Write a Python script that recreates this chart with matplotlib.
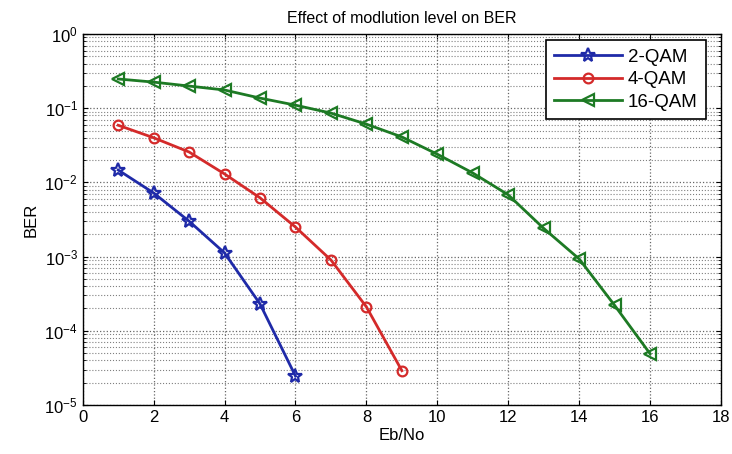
import matplotlib.pyplot as plt
from matplotlib.ticker import LogLocator, NullFormatter

plt.rcParams['font.family'] = ['Liberation Sans', 'DejaVu Sans']

# Eb/No values and BER for each modulation level
ebno_2qam = [1, 2, 3, 4, 5, 6]
ber_2qam = [0.0147, 0.0072, 0.0030, 0.00112, 2.3e-4, 2.45e-5]

ebno_4qam = [1, 2, 3, 4, 5, 6, 7, 8, 9]
ber_4qam = [0.059, 0.040, 0.0257, 0.0130, 0.0062, 0.0025, 9.0e-4, 2.1e-4, 2.9e-5]

ebno_16qam = list(range(1, 17))
ber_16qam = [0.248, 0.225, 0.199, 0.176, 0.137, 0.110, 0.086, 0.061,
             0.041, 0.024, 0.0134, 0.0068, 0.0024, 9.3e-4, 2.2e-4, 4.9e-5]

labels = ['2-QAM', '4-QAM', '16-QAM']

fig = plt.figure(figsize=(7.32, 4.54), dpi=100)
ax = fig.add_axes([0.113, 0.108, 0.872, 0.817])

ax.semilogy(ebno_2qam, ber_2qam, color='#1f2aa8', lw=2, marker='*', ms=10,
            mfc='none', mew=1.6, label=labels[0])
ax.semilogy(ebno_4qam, ber_4qam, color='#d42a2a', lw=2, marker='o', ms=7,
            mfc='none', mew=1.6, label=labels[1])
ax.semilogy(ebno_16qam, ber_16qam, color='#1d7a24', lw=2, marker='<', ms=8,
            mfc='none', mew=1.6, label=labels[2])

ax.set_xlim(0, 18)
ax.set_ylim(1e-5, 1)
ax.set_xticks(range(0, 19, 2))
ax.yaxis.set_minor_locator(LogLocator(base=10, subs=range(2, 10), numticks=20))
ax.yaxis.set_minor_formatter(NullFormatter())

# matlab style dotted grid
ax.grid(True, which='major', ls=':', color='0.4', lw=0.9)
ax.grid(True, which='minor', axis='y', ls=':', color='0.5', lw=0.8)
ax.tick_params(which='both', direction='in', top=True, right=True, labelsize=12)
for s in ax.spines.values():
    s.set_linewidth(1.0)

ax.set_xlabel('Eb/No', fontsize=12, labelpad=2)
ax.set_ylabel('BER', fontsize=12)
ax.set_title('Effect of modlution level on BER', fontsize=11.5, pad=8)

leg = ax.legend(loc='upper right', bbox_to_anchor=(0.976, 0.984), borderaxespad=0,
                fontsize=13.5, fancybox=False, framealpha=1, edgecolor='black',
                handlelength=3.6, handletextpad=0.3, labelspacing=0.3, borderpad=0.45)
leg.get_frame().set_linewidth(1.2)

fig.savefig('out.png', dpi=100)
